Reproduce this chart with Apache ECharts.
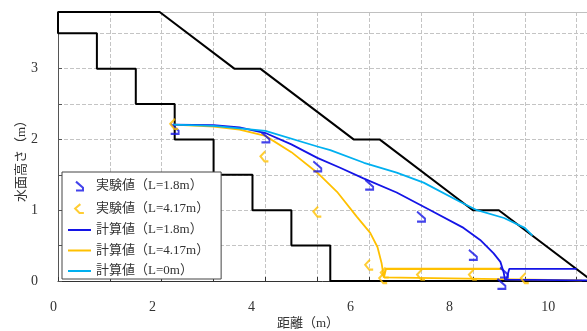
<!DOCTYPE html>
<html><head><meta charset="utf-8">
<script src="https://cdn.jsdelivr.net/npm/echarts@6/dist/echarts.min.js"></script>
<style>html,body{margin:0;padding:0;background:#fff}#c{width:587px;height:331px}</style>
</head><body><div id="c"></div>
<script>
const FONT = "'Liberation Serif','Noto Sans CJK JP',serif";
const xAxisName = '距離（m）';
const yAxisName = '水面高さ（m）';
const xTickLabels = [0, 2, 4, 6, 8, 10];
const yTickLabels = [0, 1, 2, 3];
const seriesNames = ['実験値（L=1.8m）', '実験値（L=4.17m）', '計算値（L=1.8m）', '計算値（L=4.17m）', '計算値（L=0m）'];

// structure outline (stepped channel + sloped bank)
const structX = [10.3, 8.5, 8.0, 6.2, 5.7, 3.9, 3.4, 1.96, 0, 0, 0.75, 0.75, 1.5, 1.5, 2.25, 2.25, 3.0, 3.0, 3.75, 3.75, 4.5, 4.5, 5.25, 5.25, 10.3];
const structY = [0, 1.0, 1.0, 2.0, 2.0, 3.0, 3.0, 3.8, 3.8, 3.5, 3.5, 3.0, 3.0, 2.5, 2.5, 2.0, 2.0, 1.5, 1.5, 1.0, 1.0, 0.5, 0.5, 0, 0];

// experimental values
const exp18X = [2.25, 4.0, 5.0, 6.0, 7.0, 8.0, 8.6, 8.55];
const exp18Y = [2.15, 2.03, 1.62, 1.36, 0.91, 0.37, 0.12, -0.04];
const exp417X = [2.24, 3.98, 5.0, 6.0, 6.3, 6.27, 7.0, 8.0, 9.0];
const exp417Y = [2.22, 1.76, 0.98, 0.23, 0.12, 0.04, 0.09, 0.09, 0.04];

// computed L=1.8m
const calc18X = [2.22, 3.0, 3.5, 4.0, 4.5, 5.0, 5.44, 5.89, 6.53, 7.18, 7.82, 8.14, 8.40, 8.53, 8.59, 8.62, 10.2];
const calc18Y = [2.21, 2.2, 2.17, 2.09, 1.93, 1.74, 1.6, 1.45, 1.25, 1.0, 0.75, 0.58, 0.39, 0.27, 0.13, 0.02, 0.01];
const calc18bX = [8.65, 8.70, 10.0];
const calc18bY = [0.03, 0.17, 0.17];
// computed L=4.17m
const calc417X = [2.22, 3.0, 3.5, 4.0, 4.5, 5.0, 5.38, 5.76, 6.02, 6.16, 6.24, 6.27, 6.29, 10.1];
const calc417Y = [2.21, 2.18, 2.14, 2.05, 1.82, 1.53, 1.26, 0.91, 0.68, 0.48, 0.25, 0.11, 0.05, 0.01];
const calc417bX = [6.28, 6.32, 8.58];
const calc417bY = [0.05, 0.17, 0.17];
// computed L=0m
const calc0X = [2.22, 3.0, 4.0, 5.0, 5.25, 5.9, 6.53, 7.05, 7.75, 8.08, 8.6, 9.0, 9.15];
const calc0Y = [2.21, 2.19, 2.12, 1.90, 1.85, 1.67, 1.53, 1.39, 1.12, 1.0, 0.89, 0.75, 0.64];

const zip = (xs, ys) => xs.map((x, i) => [x, ys[i]]);
const BLUE = '#1414E6', ORANGE = '#FFC000', LBLUE = '#00B0F0';
const symBlue = 'path://M0,0 L8,7 L8,10 L0,10';
const symOrange = 'path://M6,0 L0,5 L5,10 L10,10';
const legBlue = 'path://M-6,-3 M14,13 M0,0 L8,7 L8,10 L0,10';
const legOrange = 'path://M-6,-3 M16,13 M6,0 L0,5 L5,10 L10,10';
const lineIcon = 'path://M0,0 L46,0 L46,4 L0,4 Z';
const grid = {type: [4, 2], color: '#C4C4C4', width: 1};

const chart = echarts.init(document.getElementById('c'));
chart.setOption({
  animation: false,
  textStyle: {fontFamily: FONT},
  grid: [
    {left: 58, top: 12, width: 529, height: 269, outerBoundsMode: 'none', containLabel: false},
    {left: 53.5, top: 12, width: 529, height: 269, outerBoundsMode: 'none', containLabel: false}
  ],
  legend: {
    orient: 'vertical', left: 62, top: 172,
    padding: [6, 12, 1, 6], itemGap: 6.5, itemWidth: 23, itemHeight: 14,
    backgroundColor: '#fff', borderColor: '#444', borderWidth: 1,
    textStyle: {fontSize: 13, fontFamily: FONT, color: '#333', lineHeight: 14},
    data: [
      {name: seriesNames[0], icon: legBlue},
      {name: seriesNames[1], icon: legOrange},
      {name: seriesNames[2], icon: lineIcon, itemStyle: {color: BLUE}},
      {name: seriesNames[3], icon: lineIcon, itemStyle: {color: ORANGE}},
      {name: seriesNames[4], icon: lineIcon, itemStyle: {color: LBLUE}}
    ]
  },
  xAxis: [
    {gridIndex: 0, type: 'value', min: 0, max: 10.2, interval: 1,
     axisLine: {lineStyle: {color: '#333'}}, axisTick: {inside: true, length: 4, lineStyle: {color: '#333'}},
     axisLabel: {show: false}, splitLine: {show: true, lineStyle: grid},
     name: xAxisName, nameLocation: 'middle', nameGap: 36, nameMoveOverlap: false,
     nameTextStyle: {fontSize: 13, color: '#333', fontFamily: FONT, padding: [0, 29, 0, 0]}},
    {gridIndex: 1, type: 'value', min: 0, max: 10.69, interval: 2,
     axisLine: {show: false}, axisTick: {show: false}, splitLine: {show: false},
     axisLabel: {margin: 19, fontSize: 14, color: '#333', fontFamily: FONT,
       formatter: v => xTickLabels.includes(v) ? String(v) : ''}},
    {gridIndex: 0, type: 'value', position: 'top', min: 0, max: 10.2,
     axisLine: {show: true, lineStyle: {color: '#C0C0C0'}}, axisTick: {show: false}, axisLabel: {show: false}, splitLine: {show: false}}
  ],
  yAxis: [
    {gridIndex: 0, type: 'value', min: 0, max: 3.8, interval: 0.5,
     axisLine: {show: true, lineStyle: {color: '#555'}}, axisTick: {show: true, inside: true, length: 4, lineStyle: {color: '#555'}},
     axisLabel: {margin: 20, fontSize: 14, color: '#333', fontFamily: FONT,
       formatter: v => yTickLabels.includes(v) ? String(v) : ''},
     splitLine: {show: true, lineStyle: grid},
     name: yAxisName, nameLocation: 'middle', nameGap: 30, nameRotate: 90, nameMoveOverlap: false,
     nameTextStyle: {fontSize: 13, color: '#333', fontFamily: FONT, padding: [0, 23, 0, 0]}},
    {gridIndex: 1, type: 'value', min: 0, max: 1, show: false}
  ],
  series: [
    {type: 'line', name: 'structure', data: zip(structX, structY), symbol: 'none', z: 1,
     lineStyle: {color: '#000', width: 2}, itemStyle: {color: '#000'}, silent: true},
    {type: 'scatter', name: seriesNames[0], data: zip(exp18X, exp18Y), symbol: symBlue, symbolSize: [8, 10], z: 4, clip: false,
     itemStyle: {color: 'transparent', borderColor: BLUE, borderWidth: 2}},
    {type: 'scatter', name: seriesNames[1], data: zip(exp417X, exp417Y), symbol: symOrange, symbolSize: [8, 10], z: 4, clip: false,
     itemStyle: {color: 'transparent', borderColor: ORANGE, borderWidth: 2}},
    {type: 'line', name: seriesNames[2], data: zip(calc18X, calc18Y), symbol: 'none', z: 3,
     lineStyle: {color: BLUE, width: 1.8}, itemStyle: {color: BLUE}},
    {type: 'line', name: seriesNames[3], data: zip(calc417X, calc417Y), symbol: 'none', z: 2,
     lineStyle: {color: ORANGE, width: 1.8}, itemStyle: {color: ORANGE}},
    {type: 'line', name: seriesNames[4], data: zip(calc0X, calc0Y), symbol: 'none', z: 3,
     lineStyle: {color: LBLUE, width: 1.8}, itemStyle: {color: LBLUE}},
    {type: 'line', name: seriesNames[2], data: zip(calc18bX, calc18bY), symbol: 'none', z: 3,
     lineStyle: {color: BLUE, width: 1.8}, itemStyle: {color: BLUE}},
    {type: 'line', name: seriesNames[3], data: zip(calc417bX, calc417bY), symbol: 'none', z: 2,
     lineStyle: {color: ORANGE, width: 2.2}, itemStyle: {color: ORANGE}}
  ]
});
</script></body></html>
